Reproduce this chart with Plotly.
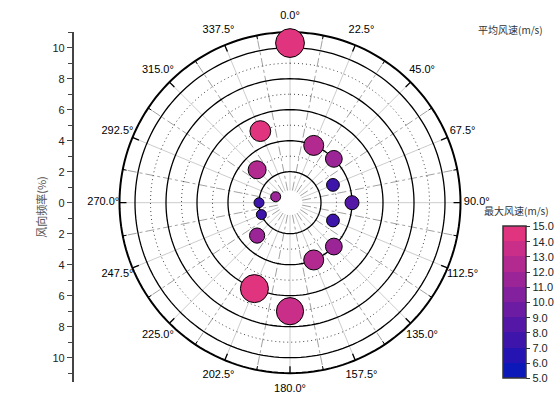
import plotly.graph_objects as go

# ---- data ----
directions = [0.0, 22.5, 45.0, 67.5, 90.0, 112.5, 135.0, 157.5,
              180.0, 202.5, 225.0, 247.5, 270.0, 292.5, 315.0, 337.5]
frequency = [10.3, 4.0, 4.0, 3.0, 4.0, 3.0, 4.0, 4.0,
             7.0, 6.0, 3.0, 2.0, 2.0, 1.0, 3.0, 5.0]
mean_speed = [7.2, 5.0, 4.2, 3.2, 3.5, 3.2, 4.2, 5.0,
              6.8, 7.0, 3.8, 2.5, 2.5, 2.5, 4.5, 5.2]
max_speed = [14.6, 12.5, 11.5, 7.8, 8.2, 7.8, 11.5, 12.5,
             13.5, 14.7, 11.8, 7.5, 7.5, 11.2, 12.3, 14.3]
cbar_ticks = [5, 6, 7, 8, 9, 10, 11, 12, 13, 14, 15]
level_colors = ["#0c18b8", "#2514b1", "#3d15ab", "#5518a6", "#6c1ca2",
                "#83209d", "#9b2597", "#b22a90", "#c92e88", "#e0347f"]
radial_ticks = [-10, -8, -6, -4, -2, 0, 2, 4, 6, 8, 10]

FONT = "Liberation Sans, Arial, Noto Sans CJK SC"
CJK = "Noto Sans CJK SC, Liberation Sans"

R_MAX = 11.0      # outer edge of the rose
R_VIEW = 12.5     # radial range shown (room for the angle labels)
R_LABEL = 12.05   # ring on which angle labels are centred

colorscale = []
n = len(level_colors)
for i, c in enumerate(level_colors):
    colorscale.append([i / n, c])
    colorscale.append([(i + 1) / n, c])

fig = go.Figure()

# ---- grid: angular lines and edge ticks ----
gr_major_t, gr_major_r, gr_minor_t, gr_minor_r = [], [], [], []
tk_major_t, tk_major_r, tk_minor_t, tk_minor_r = [], [], [], []
for k in range(32):
    a = k * 11.25
    if k % 2 == 0:
        gr_major_t += [a, a, None]
        gr_major_r += [0.8, R_MAX, None]
        tk_major_t += [a, a, None]
        tk_major_r += [R_MAX - 0.45, R_MAX, None]
    else:
        gr_minor_t += [a, a, None]
        gr_minor_r += [0.8, R_MAX, None]
        tk_minor_t += [a, a, None]
        tk_minor_r += [R_MAX - 0.25, R_MAX, None]

fig.add_trace(go.Scatterpolar(theta=gr_major_t, r=gr_major_r, mode="lines",
                              line=dict(color="#cccccc", width=1),
                              hoverinfo="skip", showlegend=False))
fig.add_trace(go.Scatterpolar(theta=gr_minor_t, r=gr_minor_r, mode="lines",
                              line=dict(color="#8a8a8a", width=0.8, dash="dashdot"),
                              hoverinfo="skip", showlegend=False))

# ---- grid: circles ----
circ_theta = [i * 2 for i in range(181)]
for rr in [3, 5, 7, 9]:
    fig.add_trace(go.Scatterpolar(theta=circ_theta, r=[rr] * len(circ_theta), mode="lines",
                                  line=dict(color="#444444", width=1, dash="1px,3px"),
                                  hoverinfo="skip", showlegend=False))
for rr in [2, 4, 6, 8, 10]:
    fig.add_trace(go.Scatterpolar(theta=circ_theta, r=[rr] * len(circ_theta), mode="lines",
                                  line=dict(color="black", width=1.3),
                                  hoverinfo="skip", showlegend=False))
# outer axis ring and its ticks
fig.add_trace(go.Scatterpolar(theta=circ_theta, r=[R_MAX] * len(circ_theta), mode="lines",
                              line=dict(color="black", width=2),
                              hoverinfo="skip", showlegend=False))
fig.add_trace(go.Scatterpolar(theta=tk_major_t, r=tk_major_r, mode="lines",
                              line=dict(color="black", width=1.3),
                              hoverinfo="skip", showlegend=False))
fig.add_trace(go.Scatterpolar(theta=tk_minor_t, r=tk_minor_r, mode="lines",
                              line=dict(color="black", width=1),
                              hoverinfo="skip", showlegend=False))

# ---- angular tick labels, centred on a ring outside the axis ----
fig.add_trace(go.Scatterpolar(theta=directions, r=[R_LABEL] * len(directions), mode="text",
                              text=[f"{d:.1f}°" for d in directions],
                              textposition="middle center",
                              textfont=dict(family=FONT, size=11, color="black"),
                              hoverinfo="skip", showlegend=False))

# ---- data markers ----
fig.add_trace(go.Scatterpolar(
    theta=directions, r=frequency, mode="markers",
    marker=dict(size=[s * 4 for s in mean_speed], sizemode="diameter",
                color=max_speed, colorscale=colorscale, cmin=5, cmax=15,
                line=dict(color="black", width=1), opacity=1,
                showscale=True,
                colorbar=dict(
                    x=0.8988, xanchor="left", xpad=0,
                    y=0.2798, yanchor="middle", ypad=0,
                    len=0.361, lenmode="fraction",
                    thickness=23, thicknessmode="pixels",
                    outlinecolor="#333", outlinewidth=1.5,
                    tickvals=cbar_ticks, tickformat=".1f",
                    ticks="outside", ticklen=4, tickcolor="#333",
                    tickfont=dict(family=FONT, size=11, color="#222"))),
    showlegend=False, name="风向"))

# ---- dummy cartesian trace for the left axis ----
fig.add_trace(go.Scatter(x=[0], y=[0], mode="markers", marker=dict(opacity=0),
                         hoverinfo="skip", showlegend=False, xaxis="x", yaxis="y"))

cx, cy, px_per_unit = 290.0, 202.7, 15.5
half = R_VIEW * px_per_unit
fig.update_layout(
    width=560, height=420,
    margin=dict(l=0, r=0, t=0, b=0),
    paper_bgcolor="white", plot_bgcolor="rgba(0,0,0,0)",
    font=dict(family=FONT, size=11, color="black"),
    polar=dict(
        domain=dict(x=[(cx - half) / 560, (cx + half) / 560],
                    y=[1 - (cy + half) / 420, 1 - (cy - half) / 420]),
        bgcolor="rgba(0,0,0,0)",
        radialaxis=dict(range=[0, R_VIEW], visible=False, showgrid=False),
        angularaxis=dict(rotation=90, direction="clockwise",
                         showticklabels=False, ticks="",
                         showgrid=False, showline=False),
    ),
    xaxis=dict(domain=[0.0, 0.01], visible=False, range=[-1, 1]),
    yaxis=dict(domain=[0.0912, 0.9233], range=[-11.55, 11],
               anchor="free", position=0.1298, side="left",
               tickmode="array", tickvals=radial_ticks,
               ticktext=[str(abs(v)) for v in radial_ticks],
               ticks="outside", ticklen=5, tickwidth=1.2, tickcolor="#444",
               minor=dict(tickmode="array", tickvals=[-11, -9, -7, -5, -3, -1, 1, 3, 5, 7, 9, 11],
                          ticks="outside", ticklen=4, tickcolor="#444", tickwidth=1.2),
               showline=True, linecolor="#444", linewidth=1.5,
               showgrid=False, zeroline=False,
               tickfont=dict(family=FONT, size=11, color="#222"),
               title=dict(text="风向频率(%)", font=dict(family=CJK, size=11, color="#555"),
                          standoff=3)),
    annotations=[
        dict(text="平均风速(m/s)", x=510 / 560, y=1 - 30 / 420,
             xref="paper", yref="paper", xanchor="center", yanchor="middle",
             showarrow=False, font=dict(family=CJK, size=10, color="#333")),
        dict(text="最大风速(m/s)", x=516 / 560, y=1 - 220 / 420,
             xref="paper", yref="bottom" if False else "paper", xanchor="center", yanchor="bottom",
             showarrow=False, font=dict(family=CJK, size=10, color="#333")),
    ],
)

fig.write_html("out.html", config={"displayModeBar": False},
               post_script="document.body.style.margin='0px';")
